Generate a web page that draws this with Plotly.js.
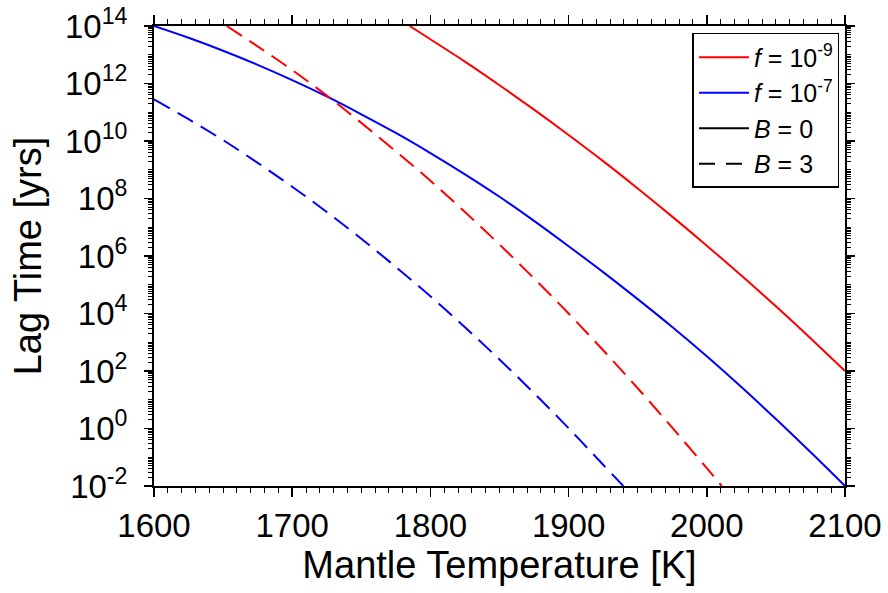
<!DOCTYPE html>
<html><head><meta charset="utf-8">
<script src="https://cdn.plot.ly/plotly-3.0.1.min.js"></script>
<style>html,body{margin:0;padding:0;background:#fff}#chart{width:888px;height:593px}</style>
</head><body><div id="chart"></div>
<script>
// Mantle temperature [K] and log10(lag time [yrs])
const blueSolidT = [1600,1625,1650,1675,1700,1725,1750,1775,1800,1825,1850,1875,1900,1925,1950,1975,2000,2025,2050,2075,2100];
const blueSolidExp = [14.0,13.59,13.14,12.65,12.12,11.55,10.93,10.28,9.58,8.84,8.06,7.22,6.34,5.44,4.50,3.53,2.51,1.44,0.33,-0.82,-2.0];
const redSolidT = [1785,1800,1825,1850,1875,1900,1925,1950,1975,2000,2025,2050,2075,2100];
const redSolidExp = [14.0,13.54,12.76,11.94,11.09,10.21,9.30,8.35,7.37,6.36,5.32,4.25,3.14,2.0];
const redDashedT = [1652.6,1675,1700,1725,1750,1775,1800,1825,1850,1875,1900,1925,1950,1975,2000,2010.8];
const redDashedExp = [14.0,13.29,12.47,11.58,10.63,9.64,8.62,7.53,6.40,5.22,4.0,2.72,1.40,0.03,-1.38,-2.0];
const blueDashedT = [1600,1625,1650,1675,1700,1725,1750,1775,1800,1825,1850,1875,1900,1925,1939.6];
const blueDashedExp = [11.45,10.76,10.03,9.24,8.41,7.53,6.60,5.62,4.60,3.52,2.40,1.23,0.01,-1.26,-2.0];

const yTickExp = [-2,0,2,4,6,8,10,12,14];
const xTickVals = [1600,1700,1800,1900,2000,2100];
const legendNames = ['<i>f</i> = 10<sup>-9</sup>','<i>f</i> = 10<sup>-7</sup>','<i>B</i> = 0','<i>B</i> = 3'];

const pw = e => e.map(v => Math.pow(10, v));
const dash = '18px,9px';
const traces = [
  {x: redSolidT, y: pw(redSolidExp), mode:'lines', line:{color:'#ff0000', width:2, shape:'spline'}, name: legendNames[0]},
  {x: blueSolidT, y: pw(blueSolidExp), mode:'lines', line:{color:'#0000ff', width:2, shape:'spline'}, name: legendNames[1]},
  {x: [null], y: [null], mode:'lines', line:{color:'#000', width:2}, name: legendNames[2]},
  {x: [null], y: [null], mode:'lines', line:{color:'#000', width:2, dash: '16px,11px'}, name: legendNames[3]},
  {x: redDashedT, y: pw(redDashedExp), mode:'lines', line:{color:'#ff0000', width:2, dash: dash, shape:'spline'}, showlegend:false},
  {x: blueDashedT, y: pw(blueDashedExp), mode:'lines', line:{color:'#0000ff', width:2, dash: dash, shape:'spline'}, showlegend:false}
];

const minorY = [];
for (let e = -2; e < 14; e++) for (let k = 2; k <= 9; k++) minorY.push(k * Math.pow(10, e));
for (let e = -1; e < 14; e += 2) minorY.push(Math.pow(10, e));

const font = 'Liberation Sans, Arial, Helvetica, sans-serif';
const layout = {
  width: 888, height: 593,
  margin: {l:154, r:43, t:26, b:107},
  paper_bgcolor:'#fff', plot_bgcolor:'#fff',
  font: {family: font, color:'#000', size: 32},
  showlegend: true,
  legend: {x: 0.992, y: 0.985, xanchor:'right', yanchor:'top', bordercolor:'#000', borderwidth:1.5,
           bgcolor:'#fff', font:{size:25, family: font}, tracegroupgap:0, itemwidth:50},
  xaxis: {
    range:[1600,2100], showgrid:false, zeroline:false,
    showline:true, linecolor:'#000', linewidth:2, mirror:'allticks',
    tickmode:'array', tickvals: xTickVals, ticktext: xTickVals.map(String),
    ticks:'outside', ticklen:9, tickwidth:1.5, tickcolor:'#000',
    tickfont:{size:33},
    minor:{dtick:10, ticks:'outside', ticklen:5, tickwidth:1, tickcolor:'#000', showgrid:false},
    title:{text:'Mantle Temperature [K]', font:{size:38}, standoff:6}
  },
  yaxis: {
    type:'log', range:[-2,14], showgrid:false, zeroline:false,
    showline:true, linecolor:'#000', linewidth:2, mirror:'allticks',
    tickmode:'array', tickvals: yTickExp.map(e => Math.pow(10, e)),
    ticktext: yTickExp.map(e => '10<sup>' + e + '</sup>'),
    ticks:'outside', ticklen:8, tickwidth:1.5, tickcolor:'#000',
    tickfont:{size:33}, ticklabelstandoff:10,
    minor:{tickmode:'array', tickvals: minorY, ticks:'outside', ticklen:4, tickwidth:1, tickcolor:'#000', showgrid:false},
    title:{text:'Lag Time [yrs]', font:{size:38}, standoff:12}
  }
};
Plotly.newPlot('chart', traces, layout, {staticPlot:true});
</script></body></html>
